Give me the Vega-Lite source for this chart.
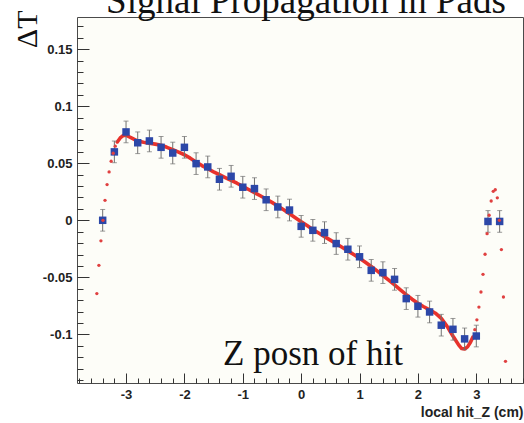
{
  "$schema": "https://vega.github.io/schema/vega-lite/v6.json",
  "width": 446,
  "height": 366,
  "autosize": {"type": "none"},
  "padding": {"left": 77, "top": 17, "right": 1, "bottom": 40},
  "background": "white",
  "config": {
    "view": {"stroke": "#4a4a4a", "strokeWidth": 1, "fill": "#fdfdf8"},
    "axis": {"grid": false, "domain": false}
  },
  "title": {
    "text": "Signal Propagation in Pads",
    "font": "Liberation Serif",
    "fontSize": 37,
    "fontWeight": "normal",
    "color": "#111111",
    "anchor": "middle",
    "baseline": "alphabetic",
    "offset": 3,
    "dx": 6,
    "dy": 43
  },
  "datasets": {
    "points": [
      {"x": -3.4, "y": 0.0, "err": 0.0095},
      {"x": -3.2, "y": 0.060, "err": 0.0095},
      {"x": -3.0, "y": 0.0775, "err": 0.0095},
      {"x": -2.8, "y": 0.068, "err": 0.0095},
      {"x": -2.6, "y": 0.0696, "err": 0.0095},
      {"x": -2.4, "y": 0.064, "err": 0.0095},
      {"x": -2.2, "y": 0.059, "err": 0.0095},
      {"x": -2.0, "y": 0.064, "err": 0.0095},
      {"x": -1.8, "y": 0.0497, "err": 0.0095},
      {"x": -1.6, "y": 0.0468, "err": 0.0095},
      {"x": -1.4, "y": 0.036, "err": 0.0095},
      {"x": -1.2, "y": 0.0386, "err": 0.0095},
      {"x": -1.0, "y": 0.029, "err": 0.0095},
      {"x": -0.8, "y": 0.0278, "err": 0.0095},
      {"x": -0.6, "y": 0.018, "err": 0.0095},
      {"x": -0.4, "y": 0.0117, "err": 0.0095},
      {"x": -0.2, "y": 0.009, "err": 0.0095},
      {"x": 0.0, "y": -0.0053, "err": 0.0095},
      {"x": 0.2, "y": -0.0088, "err": 0.0095},
      {"x": 0.4, "y": -0.0108, "err": 0.0095},
      {"x": 0.6, "y": -0.0204, "err": 0.0095},
      {"x": 0.8, "y": -0.0254, "err": 0.0095},
      {"x": 1.0, "y": -0.032, "err": 0.0095},
      {"x": 1.2, "y": -0.0439, "err": 0.0095},
      {"x": 1.4, "y": -0.0459, "err": 0.0095},
      {"x": 1.6, "y": -0.0518, "err": 0.0095},
      {"x": 1.8, "y": -0.0687, "err": 0.0095},
      {"x": 2.0, "y": -0.0754, "err": 0.0095},
      {"x": 2.2, "y": -0.0804, "err": 0.0095},
      {"x": 2.4, "y": -0.092, "err": 0.0095},
      {"x": 2.6, "y": -0.0956, "err": 0.0095},
      {"x": 2.8, "y": -0.104, "err": 0.0095},
      {"x": 3.0, "y": -0.1015, "err": 0.0095},
      {"x": 3.2, "y": -0.001, "err": 0.0095},
      {"x": 3.4, "y": -0.001, "err": 0.0095}
    ],
    "fit": [
      {"x": -3.15, "y": 0.0687},
      {"x": -3.1, "y": 0.0722},
      {"x": -3.05, "y": 0.0743},
      {"x": -3.0, "y": 0.0746},
      {"x": -2.9, "y": 0.0720},
      {"x": -2.8, "y": 0.0695},
      {"x": -2.7, "y": 0.0684},
      {"x": -2.6, "y": 0.0676},
      {"x": -2.5, "y": 0.0668},
      {"x": -2.4, "y": 0.0658},
      {"x": -2.3, "y": 0.0640},
      {"x": -2.2, "y": 0.0620},
      {"x": -2.1, "y": 0.0598},
      {"x": -2.0, "y": 0.0575},
      {"x": -1.9, "y": 0.0545},
      {"x": -1.8, "y": 0.0512},
      {"x": -1.7, "y": 0.0480},
      {"x": -1.6, "y": 0.0452},
      {"x": -1.5, "y": 0.0425},
      {"x": -1.4, "y": 0.0400},
      {"x": -1.3, "y": 0.0375},
      {"x": -1.2, "y": 0.0350},
      {"x": -1.1, "y": 0.0325},
      {"x": -1.0, "y": 0.0298},
      {"x": -0.9, "y": 0.0270},
      {"x": -0.8, "y": 0.0243},
      {"x": -0.7, "y": 0.0215},
      {"x": -0.6, "y": 0.0187},
      {"x": -0.5, "y": 0.0157},
      {"x": -0.4, "y": 0.0125},
      {"x": -0.3, "y": 0.0092},
      {"x": -0.2, "y": 0.0058},
      {"x": -0.1, "y": 0.0023},
      {"x": 0.0, "y": -0.0012},
      {"x": 0.1, "y": -0.0046},
      {"x": 0.2, "y": -0.0080},
      {"x": 0.3, "y": -0.0112},
      {"x": 0.4, "y": -0.0143},
      {"x": 0.5, "y": -0.0174},
      {"x": 0.6, "y": -0.0205},
      {"x": 0.7, "y": -0.0236},
      {"x": 0.8, "y": -0.0268},
      {"x": 0.9, "y": -0.0300},
      {"x": 1.0, "y": -0.0333},
      {"x": 1.1, "y": -0.0368},
      {"x": 1.2, "y": -0.0405},
      {"x": 1.3, "y": -0.0444},
      {"x": 1.4, "y": -0.0484},
      {"x": 1.5, "y": -0.0525},
      {"x": 1.6, "y": -0.0567},
      {"x": 1.7, "y": -0.0610},
      {"x": 1.8, "y": -0.0652},
      {"x": 1.9, "y": -0.0692},
      {"x": 2.0, "y": -0.0728},
      {"x": 2.1, "y": -0.0758},
      {"x": 2.2, "y": -0.0785},
      {"x": 2.3, "y": -0.0815},
      {"x": 2.4, "y": -0.0860},
      {"x": 2.5, "y": -0.0930},
      {"x": 2.6, "y": -0.1015},
      {"x": 2.7, "y": -0.1095},
      {"x": 2.75, "y": -0.1125},
      {"x": 2.8, "y": -0.1128},
      {"x": 2.85, "y": -0.1110},
      {"x": 2.9, "y": -0.1070},
      {"x": 2.94, "y": -0.1025}
    ],
    "dots": [
      {"x": -3.5, "y": -0.0643},
      {"x": -3.465, "y": -0.0395},
      {"x": -3.43, "y": -0.018},
      {"x": -3.395, "y": 0.0},
      {"x": -3.36, "y": 0.0175},
      {"x": -3.325, "y": 0.0313},
      {"x": -3.29, "y": 0.0424},
      {"x": -3.255, "y": 0.0518},
      {"x": -3.22, "y": 0.0588},
      {"x": -3.185, "y": 0.065},
      {"x": 2.975, "y": -0.0959},
      {"x": 3.01, "y": -0.0873},
      {"x": 3.045, "y": -0.0761},
      {"x": 3.08, "y": -0.0629},
      {"x": 3.115, "y": -0.0474},
      {"x": 3.15, "y": -0.0298},
      {"x": 3.185, "y": -0.0117},
      {"x": 3.22, "y": 0.0044},
      {"x": 3.255, "y": 0.0169},
      {"x": 3.29, "y": 0.0254},
      {"x": 3.325, "y": 0.0268},
      {"x": 3.36, "y": 0.0197},
      {"x": 3.395, "y": 0.0},
      {"x": 3.43, "y": -0.0257},
      {"x": 3.465, "y": -0.0673},
      {"x": 3.5, "y": -0.1237}
    ],
    "note": [
      {"x": -1.338, "y": -0.1272, "label": "Z posn of hit"}
    ]
  },
  "encoding": {
    "x": {
      "field": "x",
      "type": "quantitative",
      "scale": {"domain": [-3.84, 3.8], "nice": false, "zero": false},
      "axis": {
        "values": [-3.8, -3.6, -3.4, -3.2, -3, -2.8, -2.6, -2.4, -2.2, -2, -1.8, -1.6, -1.4, -1.2, -1, -0.8, -0.6, -0.4, -0.2, 0, 0.2, 0.4, 0.6, 0.8, 1, 1.2, 1.4, 1.6, 1.8, 2, 2.2, 2.4, 2.6, 2.8, 3, 3.2, 3.4, 3.6, 3.8],
        "tickSize": {"condition": {"test": "abs(datum.value - round(datum.value)) < 0.001", "value": -10}, "value": -5},
        "tickColor": "#333333",
        "tickWidth": 1,
        "labelExpr": "abs(datum.value - round(datum.value)) < 0.001 ? '' + round(datum.value) : ''",
        "labelFont": "Liberation Sans",
        "labelFontWeight": "bold",
        "labelFontSize": 13,
        "labelColor": "#222222",
        "labelPadding": 15,
        "labelOverlap": false,
        "labelFlush": false,
        "title": "local hit_Z (cm)",
        "titleFont": "Liberation Sans",
        "titleFontWeight": "bold",
        "titleFontSize": 14,
        "titleColor": "#222222",
        "titleAlign": "right",
        "titleBaseline": "alphabetic",
        "titleX": 446,
        "titleY": 33
      }
    },
    "y": {
      "field": "y",
      "type": "quantitative",
      "scale": {"domain": [-0.1427, 0.1783], "nice": false, "zero": false},
      "axis": {
        "values": [-0.14, -0.13, -0.12, -0.11, -0.1, -0.09, -0.08, -0.07, -0.06, -0.05, -0.04, -0.03, -0.02, -0.01, 0, 0.01, 0.02, 0.03, 0.04, 0.05, 0.06, 0.07, 0.08, 0.09, 0.1, 0.11, 0.12, 0.13, 0.14, 0.15, 0.16, 0.17],
        "tickSize": {"condition": {"test": "abs(datum.value * 20 - round(datum.value * 20)) < 0.001", "value": -12}, "value": -6},
        "tickColor": "#333333",
        "tickWidth": 1,
        "labelExpr": "abs(datum.value * 20 - round(datum.value * 20)) < 0.001 ? '' + datum.value : ''",
        "labelFont": "Liberation Sans",
        "labelFontWeight": "bold",
        "labelFontSize": 13,
        "labelColor": "#222222",
        "labelPadding": 17,
        "labelOverlap": false,
        "labelFlush": false,
        "title": "ΔT",
        "titleFont": "Liberation Serif",
        "titleFontWeight": "normal",
        "titleFontSize": 30,
        "titleColor": "#111111",
        "titleAngle": -90,
        "titleAlign": "right",
        "titleBaseline": "alphabetic",
        "titleX": -41,
        "titleY": -7
      }
    }
  },
  "layer": [
    {
      "data": {"name": "fit"},
      "mark": {"type": "line", "color": "#e8322c", "strokeWidth": 3.6, "strokeCap": "round", "strokeJoin": "round"}
    },
    {
      "data": {"name": "points"},
      "mark": {"type": "errorbar", "color": "#707070", "thickness": 1, "ticks": {"size": 5, "color": "#707070"}},
      "encoding": {"yError": {"field": "err"}}
    },
    {
      "data": {"name": "points"},
      "mark": {"type": "square", "color": "#2c47a8", "size": 56, "opacity": 1}
    },
    {
      "data": {"name": "dots"},
      "mark": {"type": "circle", "color": "#e04040", "size": 11, "opacity": 1}
    },
    {
      "data": {"name": "note"},
      "mark": {"type": "text", "font": "Liberation Serif", "fontSize": 35, "align": "left", "baseline": "alphabetic", "color": "#111111"},
      "encoding": {"text": {"field": "label"}}
    }
  ]
}
